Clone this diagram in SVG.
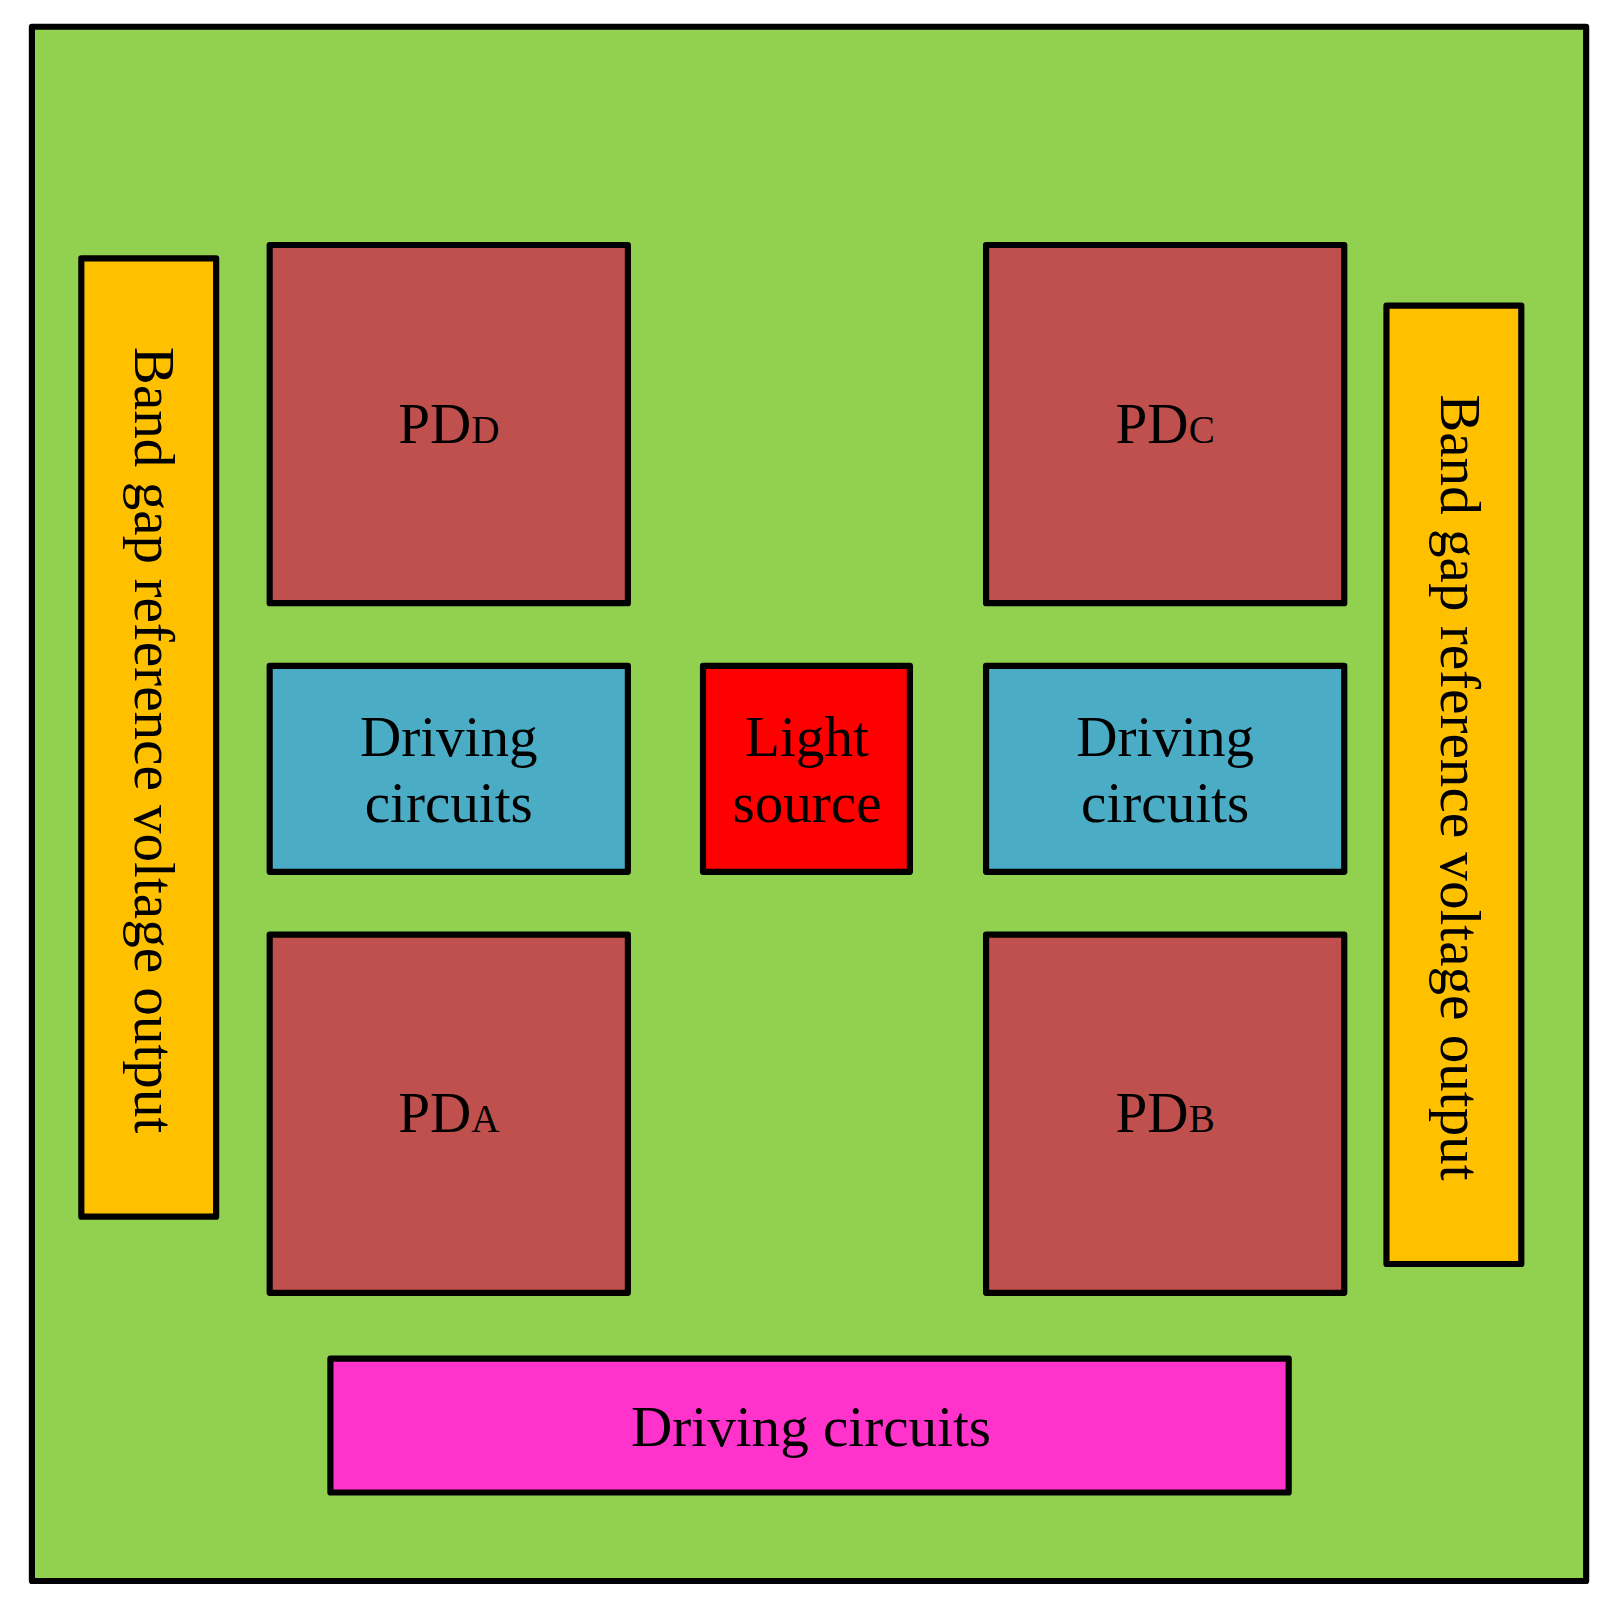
<svg xmlns="http://www.w3.org/2000/svg" width="1614" height="1602" viewBox="0 0 1614 1602">
<style>
rect{stroke:#000;stroke-width:6;stroke-linejoin:round}
text{font-family:"Liberation Serif","Times New Roman",serif;font-size:55.5px;text-anchor:middle;fill:#000}
.pd{fill:#C0504D}.dc{fill:#4BACC6}.bg{fill:#FFC000}
.s{font-size:38px}
</style>
<g transform="scale(1.0293)">
<rect x="31" y="26" width="1510" height="1510" fill="#92D050"/>
<g id="bandgap-left"><rect class="bg" x="79" y="251" width="131" height="931"/>
<text transform="translate(131,719) rotate(90)">Band gap reference voltage output</text></g>
<g id="bandgap-right"><rect class="bg" x="1347" y="297" width="131" height="931"/>
<text transform="translate(1400,765) rotate(90)">Band gap reference voltage output</text></g>
<g id="pdD"><rect class="pd" x="262" y="238" width="348" height="348"/><text x="436" y="430">PD<tspan class="s">D</tspan></text></g>
<g id="pdC"><rect class="pd" x="958" y="238" width="348" height="348"/><text x="1132" y="430">PD<tspan class="s">C</tspan></text></g>
<g id="pdA"><rect class="pd" x="262" y="908" width="348" height="348"/><text x="436" y="1100">PD<tspan class="s">A</tspan></text></g>
<g id="pdB"><rect class="pd" x="958" y="908" width="348" height="348"/><text x="1132" y="1100">PD<tspan class="s">B</tspan></text></g>
<g id="drive-left"><rect class="dc" x="262" y="647" width="348" height="200"/><text x="436" y="734">Driving</text><text x="436" y="799">circuits</text></g>
<g id="light"><rect fill="#FF0000" x="683" y="647" width="201" height="200"/><text x="784" y="734">Light</text><text x="784" y="799">source</text></g>
<g id="drive-right"><rect class="dc" x="958" y="647" width="348" height="200"/><text x="1132" y="734">Driving</text><text x="1132" y="799">circuits</text></g>
<g id="drive-bottom"><rect fill="#FF33CC" x="321" y="1320" width="931" height="130"/><text x="788" y="1405">Driving circuits</text></g>
<g id="connectors"/>
</g>
</svg>
